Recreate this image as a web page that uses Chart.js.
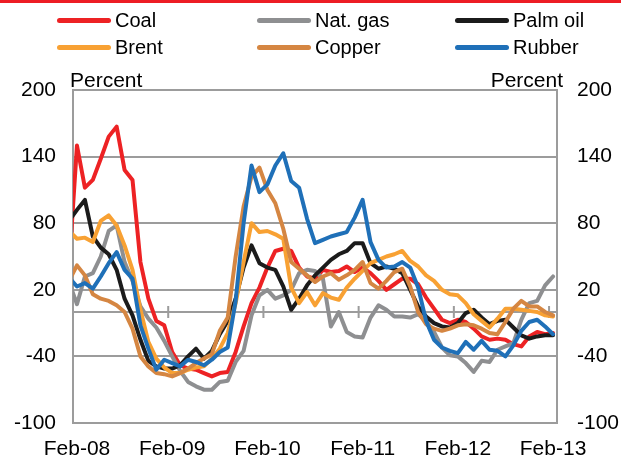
<!DOCTYPE html>
<html>
<head>
<meta charset="utf-8">
<script src="https://cdn.jsdelivr.net/npm/chart.js@4.4.0/dist/chart.umd.min.js"></script>
<style>
  html, body { margin: 0; padding: 0; background: #fff; }
  #wrap { position: relative; width: 621px; height: 458px; overflow: hidden; font-family: "Liberation Sans", Arial, sans-serif; }
  #myChart { position: absolute; left: 0; top: 0; }
  #topRule { position: absolute; left: 0; top: 0; width: 621px; height: 3px; background: #ed1c24; }
  .item { position: absolute; height: 24px; display: flex; align-items: center; font-size: 20px; color: #000; white-space: nowrap; }
  .item i { display: inline-block; width: 54px; height: 5px; border-radius: 3px; margin-right: 4px; }
</style>
</head>
<body>
<div id="wrap">
  <canvas id="myChart" width="621" height="458"></canvas>
  <div id="topRule"></div>
  <div id="legend"></div>
</div>
<script>
// monthly % changes, Jan-08 ... Feb-13 (Jan-08 only shows as the clipped stub at the left edge)
const coal = [40,
  150, 112, 119, 138, 158, 167, 128, 119, 45, 12, -8, -12,
  -36, -48, -51, -52, -55, -58, -55, -54, -36, -13, 8, 22,
  40, 55, 57, 55, 40, 32, 30, 38, 36, 37, 41, 36,
  40, 35, 28, 20, 25, 30, 30, 25, 13, 3, -7, -10,
  -7, -9, -15, -22, -25, -24, -25, -29, -31, -22, -18, -20,
  -19];
const natGas = [27,
  7, 32, 35, 50, 73, 78, 45, 28, 5, -6, -14, -26,
  -40, -53, -63, -67, -70, -70, -63, -62, -45, -35, -3, 15,
  20, 12, 15, 20, 35, 38, 37, 30, -13, 0, -18, -22,
  -23, -5, 6, 2, -4, -4, -5, -2, -8, -18, -32, -39,
  -40, -46, -54, -44, -45, -34, -31, -28, -7, 8, 10, 24,
  32];
const palmOil = [82,
  92, 101, 68, 58, 52, 38, 12, -3, -25, -44, -49, -51,
  -51, -48, -40, -33, -42, -35, -20, -8, 12, 40, 60, 44,
  40, 38, 23, 2, 12, 24, 33, 40, 47, 52, 55, 62,
  62, 44, 39, 41, 39, 35, 20, 5, -4, -10, -13, -14,
  -10, -1, 2, -5, -11, -8, -7, -14, -21, -24, -22, -21,
  -21];
const brent = [73,
  66, 67, 63, 82, 87, 78, 60, 38, 2, -27, -42, -50,
  -55, -55, -52, -50, -49, -42, -33, -19, 8, 45, 80, 72,
  73, 70, 66, 22, 8, 18, 6, 17, 13, 11, 22, 30,
  37, 44, 47, 50, 52, 55, 46, 41, 33, 28, 20, 16,
  15, 8, -2, -8, -14, -6, 3, 3, 2, 1, 0, -3,
  -4];
const copper = [28,
  42, 33, 16, 12, 10, 6, 0, -15, -40, -49, -55, -56,
  -58, -55, -51, -46, -42, -38, -17, -5, 50, 95, 122, 130,
  110, 98, 75, 45, 39, 33, 27, 32, 35, 29, 33, 38,
  45, 26, 21, 28, 36, 39, 23, 0, -11, -15, -17, -15,
  -12, -11, -12, -15, -19, -20, -9, 3, 10, 5, 5, 0,
  -3];
const rubber = [31,
  23, 26, 21, 32, 44, 54, 38, 30, -12, -33, -52, -43,
  -46, -49, -43, -45, -48, -43, -36, -32, 10, 80, 132, 108,
  115, 132, 143, 118, 112, 84, 62, 65, 68, 70, 72, 85,
  101, 63, 47, 40, 41, 45, 40, 22, -8, -25, -32, -35,
  -37, -27, -34, -26, -34, -35, -40, -30, -17, -9, -7, -13,
  -20];

const seriesNames = ['Coal', 'Nat. gas', 'Palm oil', 'Brent', 'Copper', 'Rubber'];
const seriesColours = ['#ed2224', '#8e8f91', '#1b1b1b', '#f8a133', '#d58642', '#1f70b8'];
const seriesData = [coal, natGas, palmOil, brent, copper, rubber];

// x ticks sit on the boundary before each February; months are drawn mid-category
const tickMonths = [0, 12, 24, 36, 48, 60];
const tickLabels = ['Feb-08', 'Feb-09', 'Feb-10', 'Feb-11', 'Feb-12', 'Feb-13'];

const fontFamily = '"Liberation Sans", Arial, sans-serif';
const gridColour = '#9c9c9c';

// legend (3 columns x 2 rows, like the original)
const legendCols = [57, 257, 455];
const legendRows = [8, 35];
const legendBox = document.getElementById('legend');
seriesNames.forEach((name, i) => {
  const el = document.createElement('div');
  el.className = 'item';
  el.style.left = legendCols[i % 3] + 'px';
  el.style.top = legendRows[Math.floor(i / 3)] + 'px';
  el.innerHTML = '<i style="background:' + seriesColours[i] + '"></i>' + name;
  legendBox.appendChild(el);
});

const datasets = seriesData.map((values, i) => ({
  label: seriesNames[i],
  data: values.map((v, j) => ({ x: j - 0.5, y: v })),
  borderColor: seriesColours[i],
  backgroundColor: seriesColours[i],
  clip: 0
})).reverse(); // Chart.js paints index 0 on top; keep Rubber uppermost

const extras = {
  id: 'extras',
  beforeDatasetsDraw(chart) {
    const { ctx, chartArea, scales } = chart;
    const y0 = scales.y.getPixelForValue(0);
    ctx.save();
    ctx.strokeStyle = gridColour;
    ctx.lineWidth = 2;
    ctx.beginPath();
    ctx.moveTo(chartArea.left, y0);
    ctx.lineTo(chartArea.right, y0);
    tickMonths.forEach(m => {
      const px = scales.x.getPixelForValue(m);
      ctx.moveTo(px, y0 - 6);
      ctx.lineTo(px, y0 + 6);
    });
    ctx.stroke();
    ctx.restore();
  },
  afterDraw(chart) {
    const { ctx, chartArea } = chart;
    ctx.save();
    ctx.fillStyle = '#000';
    ctx.font = '21px ' + fontFamily;
    ctx.textBaseline = 'alphabetic';
    ctx.textAlign = 'left';
    ctx.fillText('Percent', chartArea.left - 3, chartArea.top - 3);
    ctx.textAlign = 'right';
    ctx.fillText('Percent', chartArea.right + 6, chartArea.top - 3);
    ctx.restore();
  }
};

const tickFont = { size: 21, family: fontFamily };

new Chart(document.getElementById('myChart'), {
  type: 'line',
  data: { datasets },
  options: {
    responsive: false,
    animation: false,
    layout: { padding: { top: 90, left: 0, right: 0, bottom: 0 } },
    elements: {
      line: { tension: 0, borderWidth: 4, borderJoinStyle: 'round', borderCapStyle: 'round' },
      point: { radius: 0 }
    },
    plugins: { legend: { display: false }, tooltip: { enabled: false } },
    scales: {
      x: {
        type: 'linear',
        min: 0,
        max: 61,
        afterBuildTicks: s => { s.ticks = tickMonths.map(v => ({ value: v })); },
        ticks: {
          callback: (v, i) => tickLabels[i],
          labelOffset: 4,
          padding: 14,
          maxRotation: 0,
          autoSkip: false,
          color: '#000',
          font: tickFont
        },
        grid: { display: false, drawTicks: false },
        border: { display: false },
        afterFit: s => { s.height = 35; }
      },
      y: {
        position: 'left',
        min: -100,
        max: 200,
        ticks: { stepSize: 60, padding: 17, color: '#000', font: tickFont },
        grid: { color: gridColour, lineWidth: 2, drawTicks: false },
        border: { display: true, color: gridColour, width: 2 },
        afterFit: s => { s.width = 73; }
      },
      y2: {
        position: 'right',
        min: -100,
        max: 200,
        ticks: { stepSize: 60, padding: 20, color: '#000', font: tickFont },
        grid: { display: false, drawTicks: false },
        border: { display: true, color: gridColour, width: 2 },
        afterFit: s => { s.width = 64; }
      }
    }
  },
  plugins: [extras]
});
</script>
</body>
</html>
